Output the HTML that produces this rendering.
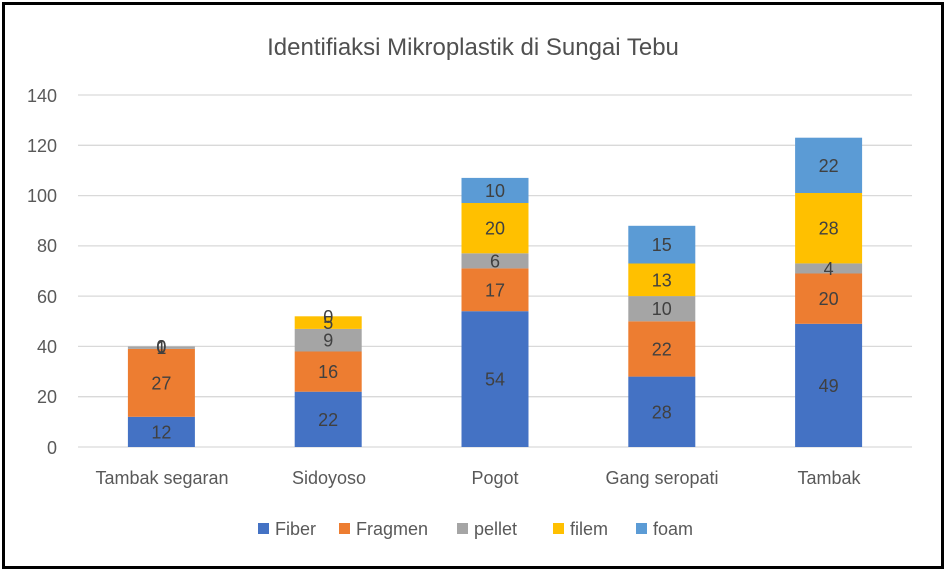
<!DOCTYPE html>
<html><head><style>
html,body{margin:0;padding:0;background:#fff;}
svg{display:block;font-family:"Liberation Sans",sans-serif;}
</style></head><body>
<svg width="946" height="571" viewBox="0 0 946 571">
<rect x="0" y="0" width="946" height="571" fill="#fff"/>
<rect x="3.5" y="3.5" width="939" height="564" fill="none" stroke="#000" stroke-width="3"/>
<text x="473" y="55" text-anchor="middle" font-size="24" fill="#505050">Identifiaksi Mikroplastik di Sungai Tebu</text>
<g stroke="#d9d9d9" stroke-width="1.3">
<line x1="78" x2="912" y1="95" y2="95"/><line x1="78" x2="912" y1="145.3" y2="145.3"/>
<line x1="78" x2="912" y1="195.6" y2="195.6"/><line x1="78" x2="912" y1="245.9" y2="245.9"/>
<line x1="78" x2="912" y1="296.1" y2="296.1"/><line x1="78" x2="912" y1="346.4" y2="346.4"/>
<line x1="78" x2="912" y1="396.7" y2="396.7"/><line x1="78" x2="912" y1="447" y2="447"/>
</g>
<g font-size="18" fill="#595959" text-anchor="end">
<text x="57" y="102">140</text><text x="57" y="152">120</text><text x="57" y="202">100</text>
<text x="57" y="252">80</text><text x="57" y="303">60</text><text x="57" y="353">40</text>
<text x="57" y="403">20</text><text x="57" y="454">0</text>
</g>
<g>
<rect x="127.9" y="416.8" width="67" height="30.2" fill="#4472C4"/>
<rect x="127.9" y="348.9" width="67" height="67.9" fill="#ED7D31"/>
<rect x="127.9" y="346.4" width="67" height="2.5" fill="#A5A5A5"/>

<rect x="294.7" y="391.7" width="67" height="55.3" fill="#4472C4"/>
<rect x="294.7" y="351.5" width="67" height="40.2" fill="#ED7D31"/>
<rect x="294.7" y="328.9" width="67" height="22.6" fill="#A5A5A5"/>
<rect x="294.7" y="316.3" width="67" height="12.6" fill="#FFC000"/>

<rect x="461.5" y="311.2" width="67" height="135.8" fill="#4472C4"/>
<rect x="461.5" y="268.4" width="67" height="42.8" fill="#ED7D31"/>
<rect x="461.5" y="253.3" width="67" height="15.1" fill="#A5A5A5"/>
<rect x="461.5" y="203.0" width="67" height="50.3" fill="#FFC000"/>
<rect x="461.5" y="177.9" width="67" height="25.1" fill="#5B9BD5"/>

<rect x="628.3" y="376.6" width="67" height="70.4" fill="#4472C4"/>
<rect x="628.3" y="321.3" width="67" height="55.3" fill="#ED7D31"/>
<rect x="628.3" y="296.1" width="67" height="25.2" fill="#A5A5A5"/>
<rect x="628.3" y="263.5" width="67" height="32.6" fill="#FFC000"/>
<rect x="628.3" y="225.8" width="67" height="37.7" fill="#5B9BD5"/>

<rect x="795.1" y="323.8" width="67" height="123.2" fill="#4472C4"/>
<rect x="795.1" y="273.5" width="67" height="50.3" fill="#ED7D31"/>
<rect x="795.1" y="263.4" width="67" height="10.1" fill="#A5A5A5"/>
<rect x="795.1" y="193.0" width="67" height="70.4" fill="#FFC000"/>
<rect x="795.1" y="137.7" width="67" height="55.3" fill="#5B9BD5"/>
</g>
<g font-size="18" fill="#404040" text-anchor="middle">
<text x="161.4" y="438.4">12</text><text x="161.4" y="389.4">27</text>
<text x="161.4" y="354.2">1</text><text x="161.4" y="352.9">0</text><text x="161.4" y="352.9">0</text>
<text x="328.2" y="425.9">22</text><text x="328.2" y="378.1">16</text><text x="328.2" y="346.7">9</text>
<text x="328.2" y="329.1">5</text><text x="328.2" y="322.8">0</text>
<text x="495" y="385.6">54</text><text x="495" y="296.3">17</text><text x="495" y="267.4">6</text>
<text x="495" y="234.7">20</text><text x="495" y="197.0">10</text>
<text x="661.8" y="418.3">28</text><text x="661.8" y="355.5">22</text><text x="661.8" y="315.2">10</text>
<text x="661.8" y="286.3">13</text><text x="661.8" y="251.2">15</text>
<text x="828.6" y="391.9">49</text><text x="828.6" y="305.2">20</text><text x="828.6" y="275.0">4</text>
<text x="828.6" y="234.7">28</text><text x="828.6" y="171.9">22</text>
</g>
<g font-size="18" fill="#595959" text-anchor="middle">
<text x="162" y="484">Tambak segaran</text><text x="329" y="484">Sidoyoso</text>
<text x="495" y="484">Pogot</text><text x="662" y="484">Gang seropati</text><text x="829" y="484">Tambak</text>
</g>
<g font-size="18" fill="#595959">
<rect x="258" y="523" width="11" height="11" fill="#4472C4"/><text x="275" y="535">Fiber</text>
<rect x="339" y="523" width="11" height="11" fill="#ED7D31"/><text x="356" y="535">Fragmen</text>
<rect x="457" y="523" width="11" height="11" fill="#A5A5A5"/><text x="474" y="535">pellet</text>
<rect x="553" y="523" width="11" height="11" fill="#FFC000"/><text x="570" y="535">filem</text>
<rect x="636" y="523" width="11" height="11" fill="#5B9BD5"/><text x="653" y="535">foam</text>
</g>
</svg>
</body></html>
